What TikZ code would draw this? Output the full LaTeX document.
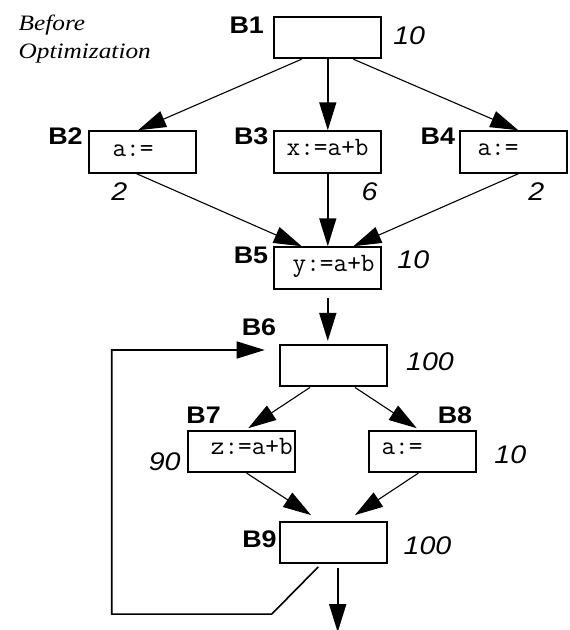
\documentclass[tikz,border=0pt]{standalone}
\usepackage{fontspec}
\setmainfont{Liberation Serif}
\newfontfamily\capfont[FakeStretch=1.15]{Liberation Serif}
\newfontfamily\lblfont[FakeStretch=1.12]{Liberation Sans}
\usetikzlibrary{arrows.meta,calc}

\begin{document}
\begin{tikzpicture}[x=1pt,y=-1pt,
  blk/.style={draw,line width=2pt,minimum width=107pt,minimum height=41.5pt,inner sep=0pt},
  blkname/.style={font=\lblfont\bfseries\fontsize{24}{24}\selectfont,inner sep=0pt},
  freq/.style={font=\lblfont\itshape\fontsize{25.5}{25.5}\selectfont,inner sep=0pt},
  code/.style={font=\ttfamily\fontsize{26.5}{26.5}\selectfont,inner sep=0pt,anchor=base west},
  tip/.style={-{Triangle[length=28pt,width=17pt]}},
  edge/.style={tip,line width=1.1pt},
  vedge/.style={tip,line width=1.6pt},
]
\useasboundingbox (0,0) rectangle (570,630);

% title (base anchor is the baseline of the last line)
\node[font=\capfont\itshape\fontsize{22}{27.6}\selectfont,align=left,anchor=base west,inner sep=0pt]
  (title) at (18.5,58.3) {Before\\Optimization};

% basic blocks
\node[blk] (b1) at (327.8,37.4) {};
\node[blk] (b2) at (142,152) {};
\node[blk] (b3) at (327.8,152) {};
\node[blk] (b4) at (513.8,152) {};
\node[blk] (b5) at (327.8,268) {};
\node[blk] (b6) at (333.2,365.7) {};
\node[blk] (b7) at (241.9,451.4) {};
\node[blk] (b8) at (422.7,451.4) {};
\node[blk] (b9) at (333.2,542.4) {};

% statements
\node[code] (c2) at (112.3,156.7) {a:=};
\node[code] (c3) at (286.5,155.7) {x:=a+b};
\node[code] (c4) at (477.3,155.7) {a:=};
\node[code] (c5) at (292.5,271) {y:=a+b};
\node[code] (c7) at (210.7,454) {z:=a+b};
\node[code] (c8) at (381.3,454) {a:=};

% block names
\node[blkname] (n1) at (246.7,25) {B1};
\node[blkname] (n2) at (65.5,136) {B2};
\node[blkname] (n3) at (251.2,136) {B3};
\node[blkname] (n4) at (437.8,136) {B4};
\node[blkname] (n5) at (251,255.8) {B5};
\node[blkname] (n6) at (259,327) {B6};
\node[blkname] (n7) at (203.6,415) {B7};
\node[blkname] (n8) at (455,415.5) {B8};
\node[blkname] (n9) at (259.5,539.2) {B9};

% execution counts
\node[freq] (f1) at (409.2,35.7) {10};
\node[freq] (f2) at (119.2,191.5) {2};
\node[freq] (f3) at (369.5,191.7) {6};
\node[freq] (f4) at (536.3,191.7) {2};
\node[freq] (f5) at (413.3,260) {10};
\node[freq] (f6) at (430,362) {100};
\node[freq] (f7) at (164.7,461.3) {90};
\node[freq] (f8) at (510.3,455) {10};
\node[freq] (f9) at (427.5,546.2) {100};

% control flow
\draw[edge]  ($(b1.south)+(-26.1,0)$) -- ($(b2.north)+(-4,0)$);
\draw[vedge] (b1.south) -- (b3.north);
\draw[edge]  ($(b1.south)+(25.5,0)$) -- ($(b4.north)+(4.5,0)$);

\draw[edge]  ($(b2.south)+(-5.3,0)$) -- ($(b5.north)+(-26.1,0)$);
\draw[vedge] (b3.south) -- (b5.north);
\draw[edge]  ($(b4.south)+(4.5,0)$) -- ($(b5.north)+(25.5,0)$);

\draw[vedge] ($(b5.south)+(0,8)$) -- ($(b6.north -| b5.south)+(0,-3)$);

\draw[edge]  ($(b6.south)+(-23.2,0)$) -- ($(b7.north)+(6.4,-1.5)$);
\draw[edge]  ($(b6.south)+(21.8,0)$) -- ($(b8.north)+(-6,-1.5)$);
\draw[edge]  ($(b7.south)+(4.8,0)$) -- ($(b9.north)+(-22.2,-5.6)$);
\draw[edge]  ($(b8.south)+(-4.4,0)$) -- ($(b9.north)+(21.8,-5.6)$);

% back edge of the loop and exit
\coordinate (loopin) at ($(b6.west)+(-14,-15.7)$);
\draw[vedge] ($(b9.south)+(-14.9,2.7)$) -- ++(-46.6,47.3) -- ++(-160,0) |- (loopin);
\draw[vedge] ($(b9.south)+(4.5,4.3)$) -- ++(0,63.7);
\end{tikzpicture}
\end{document}
